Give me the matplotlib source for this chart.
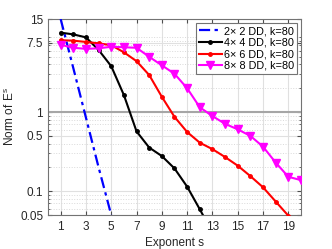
import matplotlib
matplotlib.use('Agg')
import matplotlib.pyplot as plt
import matplotlib.ticker as mticker

plt.rcParams['font.family'] = ['Liberation Sans', 'DejaVu Sans']
plt.rcParams['mathtext.fontset'] = 'custom'
plt.rcParams['mathtext.rm'] = 'Liberation Sans'
plt.rcParams['mathtext.it'] = 'Liberation Sans'

# --- dados ---
s_2x2 = [1, 2, 3, 4, 5]
norm_2x2 = [15, 3.6, 0.85, 0.2, 0.05]

s_4x4 = [1, 2, 3, 4, 5, 6, 7, 8, 9, 10, 11, 12, 13]
norm_4x4 = [10.1, 9.6, 8.8, 6.1, 3.8, 1.64, 0.57, 0.356, 0.278, 0.194, 0.114, 0.059, 0.03]

s_6x6 = [1, 2, 3, 4, 5, 6, 7, 8, 9, 10, 11, 12, 13, 14, 15, 16, 17, 18, 19]
norm_6x6 = [8.1, 8.0, 7.7, 7.4, 7.0, 5.7, 4.4, 2.94, 1.56, 0.87, 0.56, 0.41,
            0.34, 0.27, 0.21, 0.155, 0.112, 0.074, 0.049]

s_8x8 = [1, 2, 3, 4, 5, 6, 7, 8, 9, 10, 11, 12, 13, 14, 15, 16, 17, 18, 19, 20]
norm_8x8 = [7.1, 6.5, 6.3, 6.4, 6.7, 6.6, 6.5, 5.0, 3.9, 3.05, 2.0, 1.15,
            0.89, 0.71, 0.605, 0.50, 0.365, 0.23, 0.152, 0.138]

labels = ['2\u00d7 2 DD, k=80', '4\u00d7 4 DD, k=80', '6\u00d7 6 DD, k=80', '8\u00d7 8 DD, k=80']
x_ticks = [1, 3, 5, 7, 9, 11, 13, 15, 17, 19]
y_ticks = [0.05, 0.1, 0.5, 1, 7.5, 15]
y_ticklabels = ['0.05', '0.1', '0.5', '1', '7.5', '15']

fig = plt.figure(figsize=(3.32, 2.49), dpi=100)
ax = fig.add_axes([0.1446, 0.1365, 0.762, 0.787])

ax.set_yscale('log')
ax.axhline(1, color='0.65', lw=1.5, zorder=1)

ax.plot(s_2x2, norm_2x2, color='#0000ff', ls=(0, (5, 2, 1.5, 2)), lw=1.6, label=labels[0], zorder=3)
ax.plot(s_4x4, norm_4x4, color='black', marker='.', ms=5, lw=1.5, label=labels[1], zorder=3)
ax.plot(s_6x6, norm_6x6, color='#ff0000', marker='.', ms=5, lw=1.5, label=labels[2], zorder=3)
ax.plot(s_8x8, norm_8x8, color='#ff00ff', marker='v', ms=5.5, lw=1.5, label=labels[3], zorder=3)

ax.set_xlim(0, 20)
ax.set_ylim(0.05, 15)
ax.set_xticks(x_ticks)
ax.set_yticks(y_ticks)
ax.set_yticklabels(y_ticklabels)
ax.yaxis.set_minor_locator(mticker.LogLocator(base=10, subs=range(2, 10), numticks=20))
ax.yaxis.set_minor_formatter(mticker.NullFormatter())

ax.grid(True, which='major', color='0.88', lw=0.8, zorder=0)
ax.grid(True, which='minor', axis='y', color='0.85', ls=':', lw=0.7, zorder=0)
ax.set_axisbelow(True)

ax.tick_params(which='both', direction='in', top=True, right=True, labelsize=8.5,
               colors='0.3', labelcolor='0.15')
ax.tick_params(which='major', length=3)
ax.tick_params(which='minor', length=1.5)
ax.tick_params(axis='x', pad=4)
for sp in ax.spines.values():
    sp.set_color('0.45')
    sp.set_linewidth(0.8)

ax.set_xlabel('Exponent s', fontsize=8.5, color='0.15', labelpad=3)
ax.set_ylabel('Norm of E$^{\\mathrm{s}}$', fontsize=8.5, color='0.15', labelpad=2)

leg = ax.legend(loc='upper right', fontsize=7.8, fancybox=False, framealpha=1,
                edgecolor='0.45', handlelength=2.1, handletextpad=0.2,
                borderpad=0.25, labelspacing=0.15, borderaxespad=0.4)
leg.get_frame().set_linewidth(0.8)

plt.savefig('out.png', dpi=100)
plt.close()
